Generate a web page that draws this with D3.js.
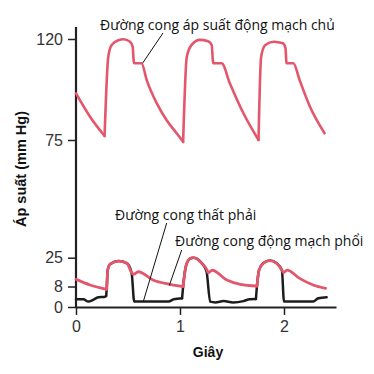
<!DOCTYPE html>
<html>
<head>
<meta charset="utf-8">
<script src="https://cdn.jsdelivr.net/npm/d3@7"></script>
<style>
  body { margin: 0; background: #fff; }
  .tick text { font-family: "Liberation Sans", Arial, sans-serif; font-size: 16px; fill: #333; }
  .note { font-family: "Open Sans", sans-serif; font-size: 14px; fill: #111; }
  .lbl { font-family: "Liberation Sans", Arial, sans-serif; font-size: 14px; font-weight: bold; fill: #111; }
</style>
</head>
<body>
<script>
// aorta pressure (mm Hg) vs time (s)
var aortaT = [0, 0.135, 0.275, 0.31, 0.343, 0.41, 0.455, 0.52, 0.545, 0.555, 0.56, 0.63, 0.68, 0.776, 0.87, 0.968, 1.03,
              1.065, 1.11, 1.19, 1.27, 1.305, 1.315, 1.32, 1.40, 1.48, 1.61, 1.755,
              1.78, 1.82, 1.90, 1.99, 2.015, 2.022, 2.025, 2.09, 2.15, 2.25, 2.39];
var aortaP = [95.8, 85.4, 76.8, 112, 117.3, 119.5, 119.9, 118.8, 116.5, 110, 109.2, 109.2, 101.7, 91.4, 83.9, 78, 74.2,
              112, 117.3, 119.6, 119, 117.3, 111, 109.2, 109.2, 100.2, 86.9, 75,
              112, 117.3, 118.8, 118.1, 115.8, 110, 109.2, 109.2, 101.7, 89.8, 78];

// pulmonary artery pressure
var pulmT = [0, 0.135, 0.295, 0.305, 0.33, 0.41, 0.49, 0.53, 0.55, 0.60, 0.74, 0.90, 1.03,
             1.06, 1.10, 1.13, 1.21, 1.26, 1.27, 1.31, 1.45, 1.58, 1.74,
             1.76, 1.80, 1.865, 1.93, 1.98, 1.995, 2.03, 2.15, 2.28, 2.40];
var pulmP = [12.2, 8.9, 6.9, 17.7, 21.3, 23.0, 21.7, 16.7, 15.2, 16.7, 11.8, 9.3, 8.0,
             20.7, 24.6, 25, 21.7, 17.7, 16.1, 17.6, 11.8, 9.3, 8.3,
             17.7, 21.7, 23.3, 21.7, 17.7, 16.1, 17.7, 12.8, 8.9, 7.3];

// right ventricle pressure
var rvT = [0, 0.07, 0.12, 0.16, 0.215, 0.28, 0.29, 0.295, 0.305, 0.33, 0.41, 0.49, 0.535, 0.56, 0.89, 0.94, 1.02,
           1.03, 1.06, 1.10, 1.13, 1.21, 1.255, 1.29, 1.34, 1.42, 1.51, 1.61, 1.67, 1.73,
           1.74, 1.76, 1.80, 1.865, 1.93, 1.98, 2.0, 2.28, 2.33, 2.41];
var rvP = [3.0, 3.0, 2.1, 2.7, 3.8, 4.0, 4.3, 6.9, 17.7, 21.3, 23.0, 21.7, 16, 2.1, 2.1, 3.0, 3.4,
           8.0, 20.7, 24.6, 25, 21.7, 17, 2.1, 1.8, 2.3, 1.8, 2.3, 3.0, 3.1,
           8.3, 17.7, 21.7, 23.3, 21.7, 17.5, 2.1, 2.1, 3.4, 3.8];

var yTicks = [0, 8, 25, 75, 120];
var xTicks = [0, 1, 2];

var notes = [
  {text: "Đường cong áp suất động mạch chủ", tx: 100, ty: 30, lx: 163, ly: 33, t: 0.64, p: 109.2},
  {text: "Đường cong thất phải", tx: 115, ty: 220, lx: 166.7, ly: 223, t: 0.647, p: 2.1},
  {text: "Đường cong động mạch phổi", tx: 175, ty: 246, lx: 181.7, ly: 250, t: 0.897, p: 8.6}
];

var W = 374, H = 374;
var svg = d3.select("body").append("svg").attr("width", W).attr("height", H);

var x = d3.scaleLinear().domain([0, 2.5]).range([76, 336]);
// broken (piecewise) pressure axis
var y = d3.scaleLinear().domain(yTicks).range([307, 286.5, 257.7, 140, 39]);

var xAxis = svg.append("g")
    .attr("transform", "translate(0," + y(0) + ")")
    .call(d3.axisBottom(x).tickValues(xTicks).tickFormat(d3.format("d")).tickSizeInner(8).tickSizeOuter(0).tickPadding(6));

var yAxis = svg.append("g")
    .attr("transform", "translate(" + x(0) + ",0)")
    .call(d3.axisLeft(y).tickValues(yTicks).tickSizeInner(8).tickSizeOuter(0).tickPadding(5));

// extend the y axis line a bit above 120
yAxis.select(".domain").attr("d", "M0," + y(0) + "V" + (y(120) - 12));
svg.selectAll(".domain").attr("stroke", "#222").attr("stroke-width", 2.2);
svg.selectAll(".tick line").attr("stroke", "#222").attr("stroke-width", 1.5);

var line = d3.line()
    .x(function(d) { return x(d[0]); })
    .y(function(d) { return y(d[1]); })
    .curve(d3.curveMonotoneX);

// split a trace where a steep upstroke starts, so the foot of each wave stays sharp
function segments(ts, ps) {
  var segs = [], cur = [];
  ts.forEach(function(t, i) {
    cur.push([t, ps[i]]);
    if (i > 0 && i < ts.length - 1) {
      var fwd = (ps[i + 1] - ps[i]) / (ts[i + 1] - t);
      var back = (ps[i] - ps[i - 1]) / (t - ts[i - 1]);
      if (fwd > 150 && back < 150) { segs.push(cur); cur = [[t, ps[i]]]; }
    }
  });
  segs.push(cur);
  return segs;
}

function trace(ts, ps, color, w) {
  svg.append("g").selectAll("path")
      .data(segments(ts, ps))
      .enter().append("path")
      .attr("d", line)
      .attr("fill", "none")
      .attr("stroke", color)
      .attr("stroke-width", w)
      .attr("stroke-linejoin", "round")
      .attr("stroke-linecap", "round");
}

trace(rvT, rvP, "#1c1c1c", 2.5);
trace(pulmT, pulmP, "#e3566b", 2.8);
trace(aortaT, aortaP, "#e3566b", 2.6);

// annotations
notes.forEach(function(n) {
  svg.append("line")
      .attr("x1", n.lx).attr("y1", n.ly)
      .attr("x2", x(n.t)).attr("y2", y(n.p))
      .attr("stroke", "#111").attr("stroke-width", 1);
  svg.append("text").attr("class", "note").attr("x", n.tx).attr("y", n.ty).text(n.text);
});

svg.append("text").attr("class", "lbl")
    .attr("x", 208).attr("y", 357).attr("text-anchor", "middle").text("Giây");

svg.append("text").attr("class", "lbl")
    .attr("transform", "translate(26,169) rotate(-90)")
    .attr("text-anchor", "middle").style("font-size", "14.5px").text("Áp suất (mm Hg)");
</script>
</body>
</html>
